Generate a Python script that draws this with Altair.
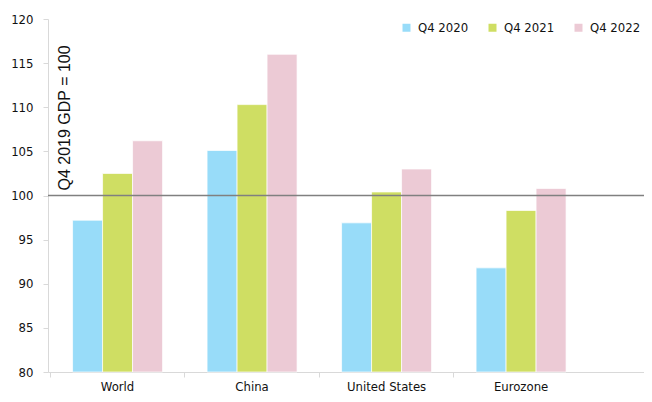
import altair as alt
import pandas as pd

countries = ["World", "China", "United States", "Eurozone"]
series = ["Q4 2020", "Q4 2021", "Q4 2022"]
q4_2020 = [97.2, 105.1, 96.9, 91.8]
q4_2021 = [102.5, 110.3, 100.4, 98.3]
q4_2022 = [106.2, 116.0, 103.0, 100.8]
baseline = [100]
y_ticks = [80, 85, 90, 95, 100, 105, 110, 115, 120]
colors = ["#98dcf9", "#cfde63", "#eccad5"]

rows = []
for vals, s in zip([q4_2020, q4_2021, q4_2022], series):
    for c, v in zip(countries, vals):
        rows.append({"country": c, "series": s, "value": v})
df = pd.DataFrame(rows)

W, H = 596, 353
LABEL_FONT = "DejaVu Sans Condensed, Roboto, sans-serif"

x = alt.X(
    "country:N",
    sort=countries,
    scale=alt.Scale(paddingInner=0, paddingOuter=0.2156, align=0.04),
    axis=alt.Axis(
        title=None, labelAngle=0, bandPosition=0, tickSize=5,
        labelPadding=3, labelFontSize=13, labelFont=LABEL_FONT,
        labelColor="#111", domainColor="#d9d9d9", tickColor="#d9d9d9",
    ),
)
y = alt.Y(
    "value:Q",
    scale=alt.Scale(domain=[80, 120], nice=False, zero=False),
    axis=alt.Axis(
        values=y_ticks, title="Q4 2019 GDP = 100", titleAngle=270,
        titleX=16, titleY=171, titleAlign="left", titleBaseline="middle",
        titleFont="Liberation Sans", titleFontSize=16, titleFontWeight="normal",
        titleColor="#111", labelFont=LABEL_FONT, labelFontSize=13,
        labelColor="#111", labelPadding=10, tickSize=5, grid=False,
        domainColor="#d9d9d9", tickColor="#d9d9d9",
    ),
)

bars = alt.Chart(df).mark_bar(stroke="white", strokeWidth=1, strokeOpacity=0.7).encode(
    x=x,
    xOffset=alt.XOffset("series:N", sort=series,
                        scale=alt.Scale(paddingInner=0, paddingOuter=0.742)),
    y=y,
    y2=alt.datum(80),
    color=alt.Color(
        "series:N", sort=series,
        scale=alt.Scale(domain=series, range=colors),
        legend=alt.Legend(
            title=None, orient="none", direction="horizontal",
            legendX=352, legendY=2, symbolType="square", symbolSize=64,
            symbolStrokeWidth=0, labelFont=LABEL_FONT, labelFontSize=13,
            labelColor="#111", columnPadding=17, labelOffset=5, padding=0,
        ),
    ),
)

rule = alt.Chart(pd.DataFrame({"v": baseline})).mark_rule(
    color="#808080", strokeWidth=1.6
).encode(y=alt.Y("v:Q"), x=alt.value(0), x2=alt.value(W))

chart = alt.layer(bars, rule).properties(
    width=W, height=H,
    autosize=alt.AutoSizeParams(type="none"),
    padding={"left": 40, "top": 11, "right": 0, "bottom": 22},
).configure_view(stroke=None)

chart.save("out.html", embed_options={"renderer": "svg", "actions": False})
